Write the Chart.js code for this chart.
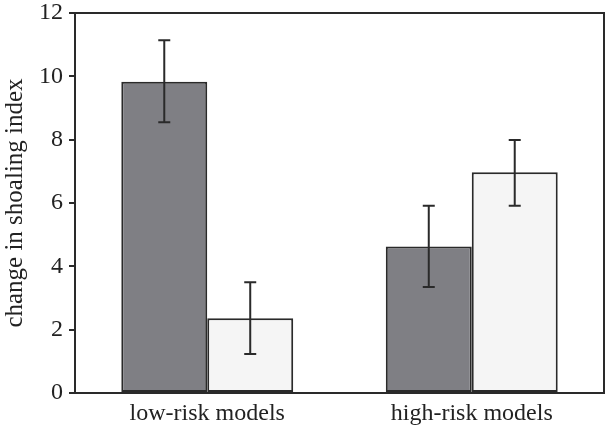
<!DOCTYPE html>
<html>
<head>
<meta charset="utf-8">
<script src="https://cdn.jsdelivr.net/npm/chart.js@4"></script>
<style>
  html, body { margin: 0; padding: 0; background: #fff; }
  canvas { display: block; }
</style>
</head>
<body>
<canvas id="grafica" width="605" height="425"></canvas>
<script>
const categories = ['low-risk models', 'high-risk models'];
const darkMeans = [9.83, 4.63];
const darkLow = [8.55, 3.35];
const darkHigh = [11.14, 5.91];
const lightMeans = [2.36, 6.97];
const lightLow = [1.23, 5.91];
const lightHigh = [3.50, 7.99];
const yTicks = [0, 2, 4, 6, 8, 10, 12];

const serif = "'Liberation Serif', 'Times New Roman', serif";

const errorBars = {
    id: 'errorBars',
    afterDatasetsDraw(chart) {
        const ctx = chart.ctx;
        const y = chart.scales.y;
        ctx.save();
        ctx.strokeStyle = '#2a2a2a';
        ctx.lineWidth = 2;
        chart.data.datasets.forEach((ds, i) => {
            const meta = chart.getDatasetMeta(i);
            meta.data.forEach((bar, j) => {
                const x = bar.x;
                const top = y.getPixelForValue(ds.errHigh[j]);
                const bottom = y.getPixelForValue(ds.errLow[j]);
                ctx.beginPath();
                ctx.moveTo(x, top);
                ctx.lineTo(x, bottom);
                ctx.moveTo(x - 6, top);
                ctx.lineTo(x + 6, top);
                ctx.moveTo(x - 6, bottom);
                ctx.lineTo(x + 6, bottom);
                ctx.stroke();
            });
        });
        ctx.restore();
    }
};

const frame = {
    id: 'frame',
    afterDraw(chart) {
        const a = chart.chartArea;
        const ctx = chart.ctx;
        ctx.save();
        ctx.strokeStyle = '#2a2a2a';
        ctx.lineWidth = 2;
        ctx.strokeRect(a.left, a.top, a.right - a.left, a.bottom - a.top);
        ctx.restore();
    }
};

const ctx = document.getElementById('grafica');

new Chart(ctx, {
    type: 'bar',
    data: {
        labels: categories,
        datasets: [{
            data: darkMeans,
            errLow: darkLow,
            errHigh: darkHigh,
            backgroundColor: '#7f7f84',
            borderColor: '#2a2a2a',
            borderWidth: 2,
            borderSkipped: false,
            categoryPercentage: 0.65,
            barPercentage: 1
        }, {
            data: lightMeans,
            errLow: lightLow,
            errHigh: lightHigh,
            backgroundColor: '#f5f5f5',
            borderColor: '#2a2a2a',
            borderWidth: 2,
            borderSkipped: false,
            categoryPercentage: 0.65,
            barPercentage: 1
        }]
    },
    options: {
        responsive: false,
        animation: false,
        layout: { padding: { top: 13, right: 1, left: 0, bottom: 0 } },
        plugins: {
            legend: { display: false },
            tooltip: { enabled: false }
        },
        scales: {
            x: {
                grid: { display: false, drawTicks: false },
                border: { display: false },
                ticks: {
                    color: '#222',
                    padding: 6,
                    maxRotation: 0,
                    minRotation: 0,
                    autoSkip: false,
                    font: { family: serif, size: 24 }
                },
                afterFit(scale) { scale.height = 32; }
            },
            y: {
                min: 0,
                max: 12,
                afterBuildTicks(scale) {
                    scale.ticks = yTicks.map(v => ({ value: v }));
                },
                grid: {
                    drawOnChartArea: false,
                    tickLength: 6,
                    color: '#2a2a2a',
                    lineWidth: 2
                },
                border: { display: false },
                ticks: {
                    color: '#222',
                    padding: 6,
                    font: { family: serif, size: 24 }
                },
                title: {
                    display: true,
                    text: 'change in shoaling index',
                    color: '#222',
                    padding: { top: 0, bottom: 2 },
                    font: { family: serif, size: 25 }
                },
                afterFit(scale) {
                    scale.width = 75;
                    scale.paddingTop = 0;
                    scale.paddingBottom = 0;
                }
            }
        }
    },
    plugins: [errorBars, frame]
});
</script>
</body>
</html>
